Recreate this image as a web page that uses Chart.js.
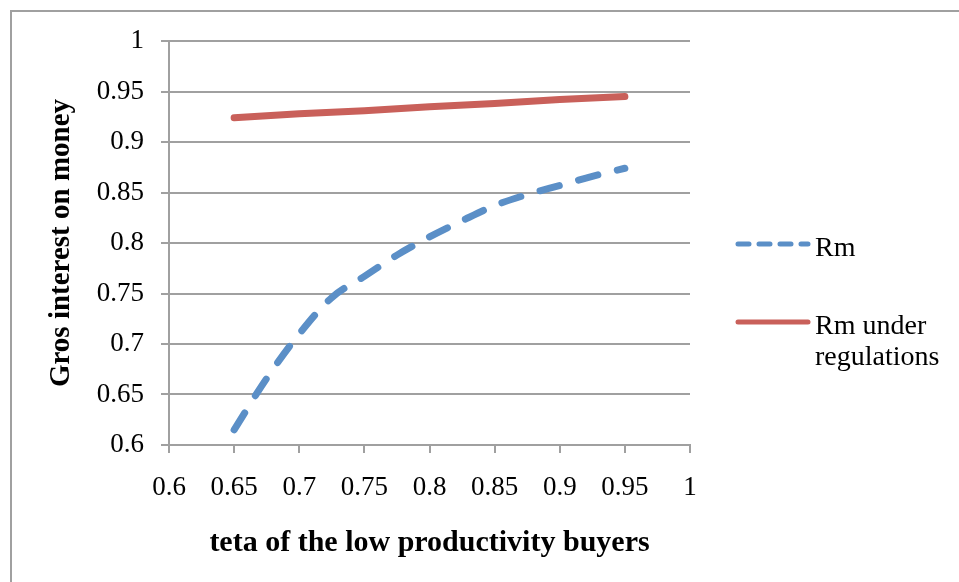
<!DOCTYPE html>
<html>
<head>
<meta charset="utf-8">
<script src="https://cdn.jsdelivr.net/npm/chart.js@4"></script>
<style>
  html, body { margin: 0; padding: 0; background: #fff; overflow: hidden; }
  #wrap { position: relative; width: 959px; height: 582px; }
  #frame { position: absolute; left: 10px; top: 10px; width: 960px; height: 600px;
           border: 2px solid #a0a0a0; box-sizing: border-box; }
  canvas { position: absolute; left: 0; top: 0; }
</style>
</head>
<body>
<div id="wrap">
  <div id="frame"></div>
  <canvas id="chart" width="959" height="582"></canvas>
</div>
<script>
// teta values (x) and the two series
const teta = [0.65, 0.675, 0.7, 0.725, 0.75, 0.775, 0.8, 0.825, 0.85, 0.875, 0.9, 0.925, 0.95];
const rm = [0.615, 0.666, 0.71, 0.746, 0.767, 0.788, 0.806, 0.822, 0.837, 0.848, 0.857, 0.866, 0.874];
const tetaRegulated = [0.65, 0.7, 0.75, 0.8, 0.85, 0.9, 0.95];
const rmRegulated = [0.924, 0.928, 0.931, 0.935, 0.938, 0.942, 0.945];
const seriesNames = ['Rm', ['Rm under', 'regulations']];

const FONT = '"Liberation Serif", "DejaVu Serif", serif';
const GRID = '#a0a0a0';

function toPoints(xs, ys) {
  return xs.map((x, i) => ({ x: x, y: ys[i] }));
}

// legend on the right, drawn by hand so the second label can wrap
const sideLegend = {
  id: 'sideLegend',
  afterDraw(chart) {
    const ctx = chart.ctx;
    const area = chart.chartArea;
    const x0 = area.right + 48;
    const x1 = x0 + 70;
    const rows = [area.top + 203, area.top + 281];
    ctx.save();
    chart.data.datasets.forEach((ds, i) => {
      const y = rows[i];
      ctx.beginPath();
      ctx.strokeStyle = ds.borderColor;
      ctx.lineWidth = 5;
      ctx.lineCap = 'round';
      ctx.setLineDash(ds.borderDash ? [11, 10] : []);
      ctx.moveTo(x0, y);
      ctx.lineTo(x1, y);
      ctx.stroke();
      ctx.setLineDash([]);
      ctx.fillStyle = '#000';
      ctx.font = '28px ' + FONT;
      ctx.textBaseline = 'middle';
      const lines = Array.isArray(seriesNames[i]) ? seriesNames[i] : [seriesNames[i]];
      lines.forEach((t, j) => ctx.fillText(t, x1 + 7, y + 5 + j * 31));
    });
    ctx.restore();
  }
};

new Chart(document.getElementById('chart'), {
  type: 'line',
  data: {
    datasets: [
      {
        label: 'Rm',
        data: toPoints(teta, rm),
        borderColor: '#5b8fc7',
        borderWidth: 7,
        borderDash: [20, 20],
        borderCapStyle: 'round',
        cubicInterpolationMode: 'monotone',
        pointRadius: 0,
        fill: false
      },
      {
        label: 'Rm under regulations',
        data: toPoints(tetaRegulated, rmRegulated),
        borderColor: '#c9605a',
        borderWidth: 7,
        borderCapStyle: 'round',
        tension: 0,
        pointRadius: 0,
        fill: false
      }
    ]
  },
  options: {
    responsive: false,
    animation: false,
    layout: { padding: { left: 0, top: 41, right: 269, bottom: 0 } },
    plugins: {
      legend: { display: false },
      tooltip: { enabled: false }
    },
    scales: {
      x: {
        type: 'linear',
        min: 0.6,
        max: 1,
        afterFit(scale) { scale.height = 137; },
        border: { color: GRID, width: 2 },
        grid: { drawOnChartArea: false, drawTicks: true, tickLength: 8, color: GRID, lineWidth: 2 },
        ticks: {
          stepSize: 0.05,
          color: '#000',
          padding: 19,
          font: { family: FONT, size: 27 },
          callback: v => String(Math.round(v * 100) / 100)
        },
        title: {
          display: true,
          text: 'teta of the low productivity buyers',
          color: '#000',
          font: { family: FONT, size: 30, weight: 'bold' },
          padding: { top: 0, bottom: 21 }
        }
      },
      y: {
        min: 0.6,
        max: 1,
        afterFit(scale) { scale.width = 169; },
        border: { color: GRID, width: 2 },
        grid: { drawTicks: true, tickLength: 8, color: GRID, lineWidth: 2 },
        ticks: {
          stepSize: 0.05,
          color: '#000',
          padding: 17,
          font: { family: FONT, size: 27 },
          callback: v => String(Math.round(v * 100) / 100)
        },
        title: {
          display: true,
          text: 'Gros interest on money',
          color: '#000',
          font: { family: FONT, size: 29, weight: 'bold' },
          padding: { top: 44, bottom: 0 }
        }
      }
    }
  },
  plugins: [sideLegend]
});
</script>
</body>
</html>
